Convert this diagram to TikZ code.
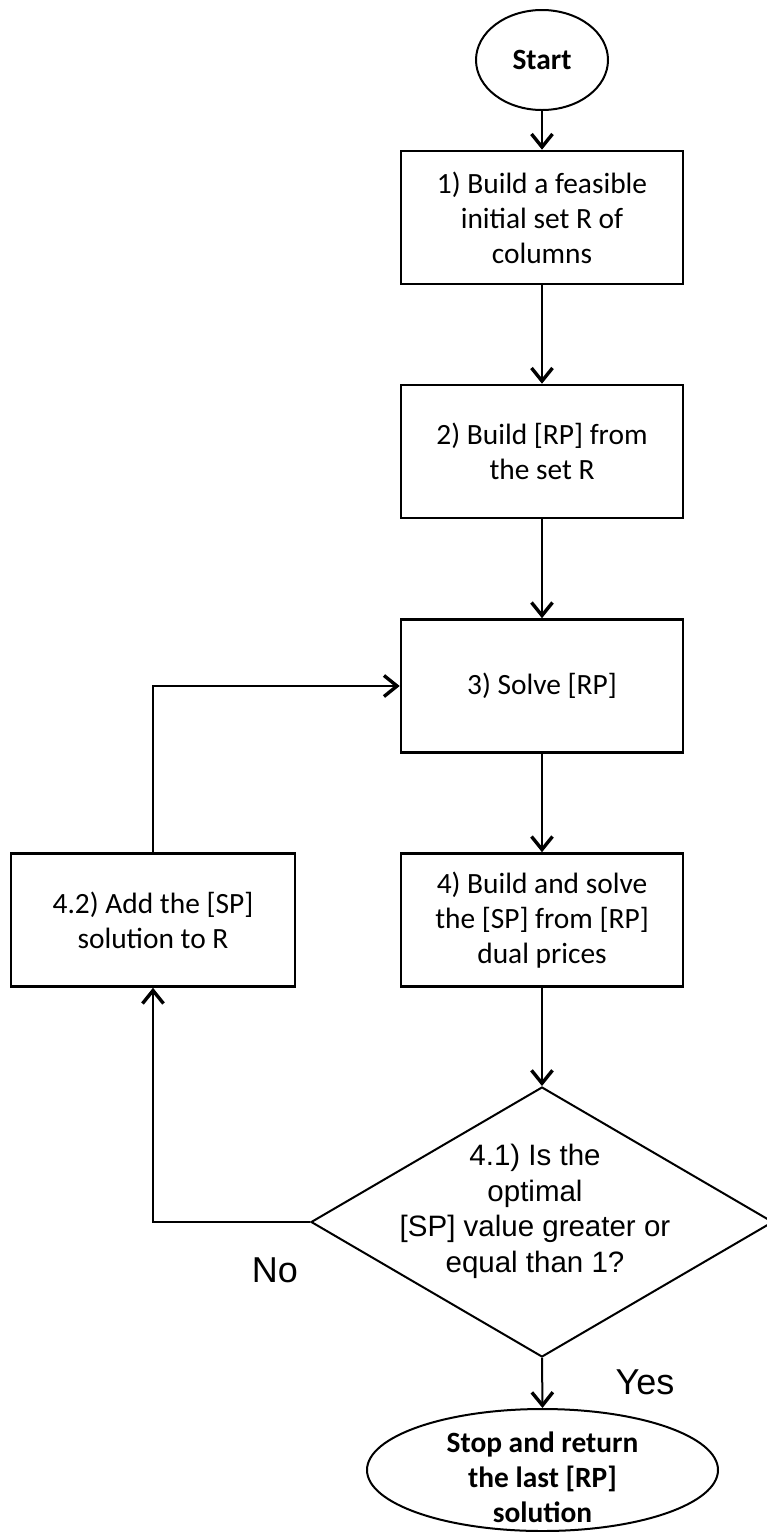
\documentclass[tikz,border=0pt]{standalone}
\usepackage{fontspec}
\setmainfont{Carlito}
\newfontfamily\arialf{Liberation Sans}
\usetikzlibrary{shapes.geometric,arrows.meta}

\tikzset{
  stepbox/.style={draw, line width=2.6pt, rectangle, minimum width=282pt,
    minimum height=133pt, inner sep=0pt, align=center,
    font=\fontsize{29.4}{35}\selectfont},
  terminal/.style={draw, line width=2pt, ellipse, inner sep=0pt},
  decision/.style={draw, line width=2pt, diamond, inner sep=0pt,
    minimum width=462pt, minimum height=270pt},
  arr/.style={line width=2pt,
    -{Straight Barb[length=13pt,width=21pt,line width=3.4pt]}},
  answer/.style={font=\arialf\fontsize{36}{40}\selectfont}
}

\begin{document}
\begin{tikzpicture}[x=1pt,y=-1pt]
\useasboundingbox (0,0) rectangle (767,1532);

\node[terminal, minimum width=132pt, minimum height=100pt,
  font=\bfseries\fontsize{29.4}{35}\selectfont] (start) at (542,60) {Start};

\node[stepbox] (s1) at (542,217.5) {1) Build a feasible\\initial set R of\\columns};
\node[stepbox] (s2) at (542,451.5) {2) Build [RP] from\\the set R};
\node[stepbox] (s3) at (542,686) {3) Solve [RP]};
\node[stepbox] (s4) at (542,920) {4) Build and solve\\the [SP] from [RP]\\dual prices};
\node[stepbox, minimum width=284pt] (s42) at (153,920) {4.2) Add the [SP]\\solution to R};

\node[decision,
  label={[xshift=-7pt, yshift=10.5pt, align=center,
    font=\arialf\fontsize{29.5}{35.5}\selectfont]center:4.1) Is the\\optimal\\{[SP]} value greater or\\equal than 1?}]
  (dec) at (542,1222) {};

\node[terminal, minimum width=351pt, minimum height=122pt,
  label={[yshift=-7pt, align=center,
    font=\bfseries\fontsize{29.4}{35}\selectfont]center:Stop and return\\the last {[RP]}\\solution}]
  (stop) at (542.5,1470) {};

\node[answer] (no) at (275,1270) {No};
\node[answer] (yes) at (645,1382) {Yes};

\draw[arr] (start) -- (s1);
\draw[arr] (s1) -- (s2);
\draw[arr] (s2) -- (s3);
\draw[arr] (s3) -- (s4);
\draw[arr] (s4) -- (dec.north);
\draw[arr] (dec.south) -- (stop.north);
\draw[arr] (dec.west) -| (s42.south);
\draw[arr] (s42.north) |- (s3.west);
\end{tikzpicture}
\end{document}
